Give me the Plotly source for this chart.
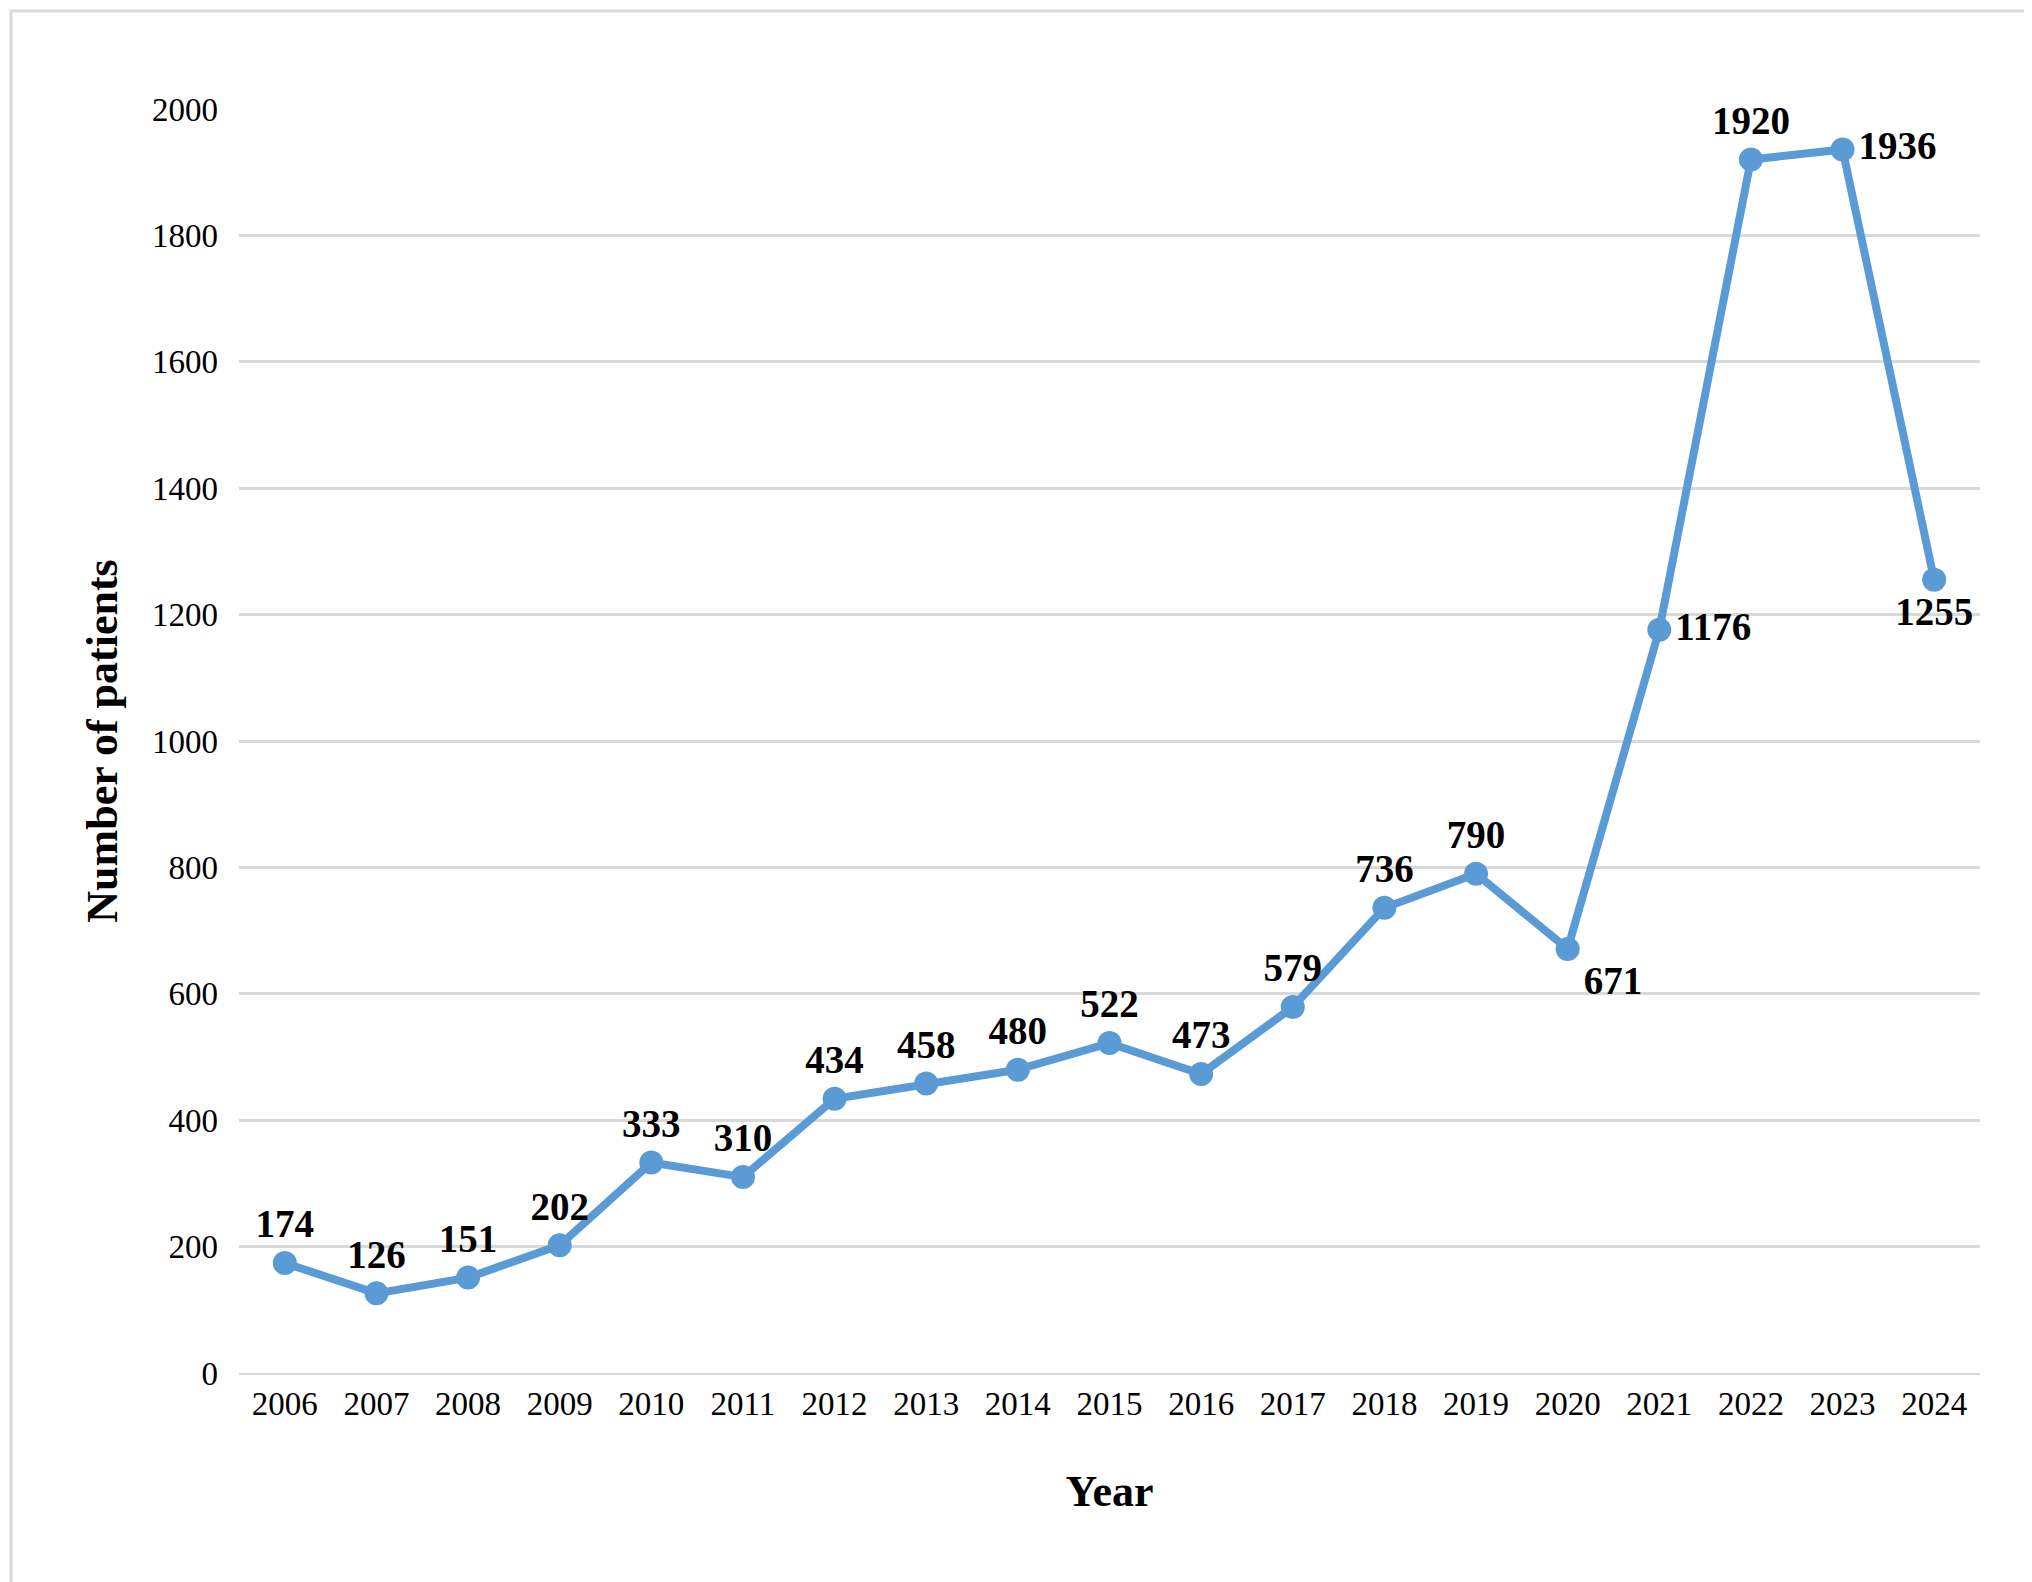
import plotly.graph_objects as go

years = [str(y) for y in range(2006, 2025)]
patients = [174, 126, 151, 202, 333, 310, 434, 458, 480, 522, 473, 579, 736, 790, 671, 1176, 1920, 1936, 1255]
label_pos = ['top center'] * 14 + ['bottom right', 'middle right', 'top center', 'middle right', 'bottom center']

W, H = 2032, 1582
ml, mr, mt, mb = 231, 60, 101, 217
pw, ph = W - ml - mr, H - mt - mb

fig = go.Figure(go.Scatter(
    x=years, y=patients, mode='lines+markers+text',
    line=dict(color='#5B9BD5', width=8),
    marker=dict(color='#5B9BD5', size=24),
    text=[f'<b>{v}</b>' for v in patients], textposition=label_pos,
    textfont=dict(family='Liberation Serif', size=39, color='black'),
    cliponaxis=False,
))

fig.update_layout(
    width=W, height=H, margin=dict(l=ml, r=mr, t=mt, b=mb),
    plot_bgcolor='white', paper_bgcolor='white', showlegend=False,
    font=dict(family='Liberation Serif', size=33, color='black'),
    xaxis=dict(title=dict(text='<b>Year</b>', font=dict(size=44), standoff=55),
               automargin=False, range=[-0.5, 18.5],
               showgrid=False, showline=True, linecolor='#D9D9D9', linewidth=2, ticks=''),
    yaxis=dict(title=dict(text='<b>Number of patients</b>', font=dict(size=44), standoff=20),
               automargin=False, range=[0, 2000], tickvals=list(range(0, 2001, 200)),
               ticklabelstandoff=20,
               gridcolor='#D9D9D9', gridwidth=3, zeroline=False, ticks=''),
    shapes=[dict(type='rect', xref='paper', yref='paper',
                 x0=-(ml - 3) / pw, x1=1 + (mr - 3) / pw,
                 y0=-(mb - 3) / ph, y1=1 + (mt - 3) / ph,
                 line=dict(color='#D9D9D9', width=3))],
)

fig.write_html("out.html")
